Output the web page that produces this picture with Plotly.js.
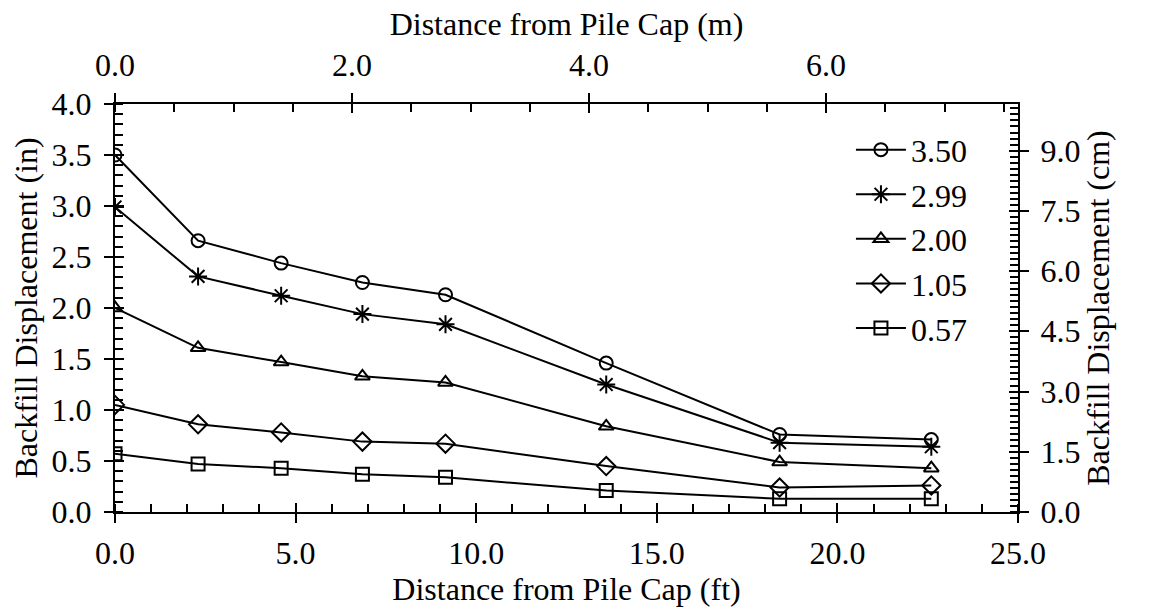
<!DOCTYPE html>
<html>
<head>
<meta charset="utf-8">
<script src="https://cdn.plot.ly/plotly-3.0.1.min.js"></script>
<style>html,body{margin:0;padding:0;background:#fff;}#chart{width:1150px;height:610px;}</style>
</head>
<body>
<div id="chart"></div>
<script>
// Distance from pile cap (ft)
const distanceFt = [0, 2.3, 4.6, 6.85, 9.15, 13.6, 18.4, 22.6];
// Series: backfill displacement (in), named by pile cap displacement (in)
const seriesNames = ["3.50", "2.99", "2.00", "1.05", "0.57"];
const disp350 = [3.50, 2.66, 2.44, 2.25, 2.13, 1.46, 0.76, 0.71];
const disp299 = [2.99, 2.31, 2.12, 1.94, 1.84, 1.25, 0.68, 0.64];
const disp200 = [2.00, 1.61, 1.47, 1.33, 1.27, 0.84, 0.49, 0.43];
const disp105 = [1.05, 0.86, 0.78, 0.69, 0.67, 0.45, 0.24, 0.26];
const disp057 = [0.57, 0.47, 0.43, 0.37, 0.34, 0.21, 0.13, 0.13];
const seriesValues = [disp350, disp299, disp200, disp105, disp057];
const symbols = ["circle-open", "asterisk-open", "triangle-up-open", "diamond-open", "square-open"];
const markerSizes = [13, 15, 13, 14, 13];

const FT_TO_M = 0.3048, IN_TO_CM = 2.54;
const xRangeFt = [0, 25], yRangeIn = [0, 4];
const xRangeM = [xRangeFt[0] * FT_TO_M, xRangeFt[1] * FT_TO_M];
const yRangeCm = [yRangeIn[0] * IN_TO_CM, yRangeIn[1] * IN_TO_CM];

const FONT = "Liberation Serif";
const FS = 32;
function fnt() { return {family: FONT, size: FS, color: "#000"}; }

const traces = seriesNames.map((name, i) => ({
  type: "scatter", mode: "lines+markers", name: name,
  x: distanceFt, y: seriesValues[i],
  legendgroup: "g" + i,
  line: {color: "#000", width: 2},
  marker: {symbol: symbols[i], size: markerSizes[i], color: "#000", line: {color: "#000", width: 2}},
  xaxis: "x", yaxis: "y"
}));
// empty helper traces so the secondary (unit-converted) axes get drawn
[["x2", "y2"], ["x3", "y3"], ["x4", "y4"]].forEach(p => {
  traces.push({type: "scatter", mode: "markers", x: [], y: [], xaxis: p[0], yaxis: p[1],
               showlegend: false, hoverinfo: "skip"});
});

function axis(extra) {
  return Object.assign({
    showgrid: false, zeroline: false, color: "#000",
    tickfont: fnt(),
    linecolor: "#000", linewidth: 2, tickcolor: "#000", tickwidth: 2, fixedrange: true
  }, extra);
}
function minor(d) { return {dtick: d, ticks: "inside", ticklen: 8, tickwidth: 2, tickcolor: "#000", showgrid: false}; }

const layout = {
  width: 1150, height: 610,
  margin: {l: 115, r: 132, t: 104, b: 98},
  paper_bgcolor: "#fff", plot_bgcolor: "#fff",
  font: fnt(),
  showlegend: true,
  legend: {x: 0.815, y: 0.955, xanchor: "left", yanchor: "top", bgcolor: "rgba(0,0,0,0)",
           font: fnt(), tracegroupgap: 3, traceorder: "normal", itemwidth: 50},
  xaxis: axis({
    range: xRangeFt, tick0: 0, dtick: 5, tickformat: ".1f",
    ticks: "outside", ticklen: 9, ticklabelstandoff: 3, showline: true, side: "bottom", anchor: "y",
    minor: minor(1),
    title: {text: "Distance from Pile Cap (ft)", font: fnt(), standoff: 2}
  }),
  xaxis3: axis({
    range: xRangeFt, tick0: 0, dtick: 5, overlaying: "x", side: "bottom", anchor: "y3",
    ticks: "inside", ticklen: 9, showline: false, showticklabels: false
  }),
  xaxis2: axis({
    range: xRangeM, tick0: 0, dtick: 2, tickformat: ".1f",
    overlaying: "x", side: "top", anchor: "y2",
    ticks: "outside", ticklen: 9, ticklabelstandoff: 4, showline: true,
    minor: minor(0.5),
    title: {text: "Distance from Pile Cap (m)", font: fnt(), standoff: 2}
  }),
  xaxis4: axis({
    range: xRangeM, tick0: 0, dtick: 2, overlaying: "x", side: "top", anchor: "y4",
    ticks: "inside", ticklen: 9, showline: false, showticklabels: false
  }),
  yaxis: axis({
    range: yRangeIn, tick0: 0, dtick: 0.5, tickformat: ".1f",
    ticks: "outside", ticklen: 9, ticklabelstandoff: 6, showline: true, side: "left", anchor: "x",
    minor: minor(0.1),
    title: {text: "Backfill Displacement (in)", font: fnt(), standoff: 4}
  }),
  yaxis3: axis({
    range: yRangeIn, tick0: 0, dtick: 0.5, overlaying: "y", side: "left", anchor: "x3",
    ticks: "inside", ticklen: 9, showline: false, showticklabels: false
  }),
  yaxis2: axis({
    range: yRangeCm, tick0: 0, dtick: 1.5, tickformat: ".1f",
    overlaying: "y", side: "right", anchor: "x2",
    ticks: "outside", ticklen: 9, ticklabelstandoff: 5, showline: true,
    minor: minor(0.15),
    title: {text: "Backfill Displacement (cm)", font: fnt(), standoff: 4}
  }),
  yaxis4: axis({
    range: yRangeCm, tick0: 0, dtick: 1.5, overlaying: "y", side: "right", anchor: "x4",
    ticks: "inside", ticklen: 9, showline: false, showticklabels: false
  })
};

Plotly.newPlot("chart", traces, layout, {displayModeBar: false, staticPlot: true});
</script>
</body>
</html>
